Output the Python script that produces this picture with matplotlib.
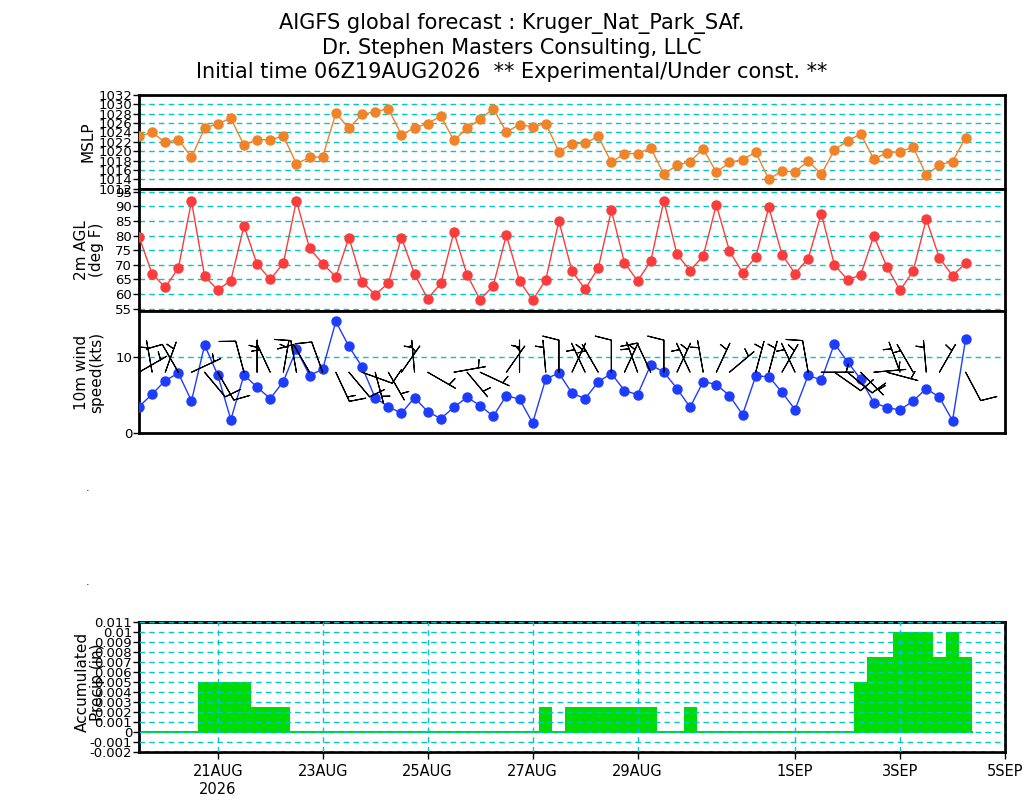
import numpy as np
import pandas as pd
import matplotlib
matplotlib.use('Agg')
import matplotlib.pyplot as plt
import matplotlib.dates as mdates

# 6-hourly forecast, first value 12Z19AUG2026
times = pd.date_range('2026-08-19 12:00', periods=64, freq='6h')

mslp = [1023.2, 1024.0, 1021.9, 1022.5, 1018.7, 1024.9, 1025.9, 1027.0,
        1021.3, 1022.5, 1022.4, 1023.3, 1017.3, 1018.7, 1018.8, 1028.1,
        1024.9, 1027.9, 1028.4, 1029.1, 1023.5, 1025.0, 1025.9, 1027.5,
        1022.3, 1024.9, 1026.8, 1029.1, 1024.1, 1025.7, 1025.2, 1025.9,
        1019.9, 1021.6, 1021.7, 1023.2, 1017.6, 1019.5, 1019.5, 1020.7,
        1015.1, 1017.0, 1017.8, 1020.5, 1015.5, 1017.6, 1018.2, 1019.8,
        1014.0, 1015.8, 1015.6, 1017.9, 1015.1, 1020.3, 1022.2, 1023.7,
        1018.3, 1019.7, 1019.9, 1020.9, 1014.9, 1017.1, 1017.8, 1022.9]

temp = [79.6, 66.9, 62.3, 68.9, 91.7, 66.1, 61.4, 64.6,
        83.3, 70.2, 65.0, 70.5, 91.9, 75.6, 70.4, 65.9,
        79.3, 64.2, 59.8, 63.7, 79.3, 66.8, 58.4, 63.6,
        81.2, 66.6, 58.0, 62.9, 80.2, 64.5, 57.9, 64.8,
        85.0, 67.8, 61.7, 68.9, 88.6, 70.7, 64.5, 71.2,
        91.9, 73.6, 68.0, 73.0, 90.5, 74.7, 67.3, 72.6,
        89.7, 73.5, 67.0, 72.1, 87.5, 70.0, 64.9, 66.5,
        79.9, 69.3, 61.3, 67.8, 85.6, 72.3, 66.3, 70.5]

wspd = [3.45, 5.09, 6.90, 7.88, 4.20, 11.59, 7.65, 1.73,
        7.65, 6.02, 4.51, 6.77, 11.06, 7.56, 8.41, 14.72,
        11.41, 8.71, 4.60, 3.45, 2.57, 4.64, 2.79, 1.86,
        3.37, 4.69, 3.58, 2.17, 4.91, 4.43, 1.29, 7.12,
        7.88, 5.22, 4.51, 6.72, 7.83, 5.57, 5.04, 8.98,
        8.01, 5.84, 3.37, 6.77, 6.37, 4.91, 2.39, 7.48,
        7.43, 5.36, 3.05, 7.61, 6.95, 11.80, 9.38, 7.08,
        3.98, 3.32, 3.01, 4.20, 5.84, 4.69, 1.59, 12.39]

# direction the wind blows from, degrees
wdir = [60, 350, 20, 330, 65, 140, 150, 170,
        345, 0, 335, 10, 350, 330, 340, 155,
        140, 110, 165, 150, 35, 355, 120, 55,
        80, 140, 115, 75, 35, 0, 345, 355,
        0, 25, 335, 330, 0, 25, 340, 335,
        0, 25, 335, 350, 25, 50, 20, 15,
        15, 30, 335, 350, 90, 125, 130, 135,
        85, 105, 340, 330, 355, 30, 270, 152]

precip = [0, 0, 0, 0, 0, 0.005, 0.005, 0.005,
          0.005, 0.0025, 0.0025, 0.0025, 0, 0, 0, 0,
          0, 0, 0, 0, 0, 0, 0, 0,
          0, 0, 0, 0, 0, 0, 0, 0.0025,
          0, 0.0025, 0.0025, 0.0025, 0.0025, 0.0025, 0.0025, 0.0025,
          0, 0, 0.0025, 0, 0, 0, 0, 0,
          0, 0, 0, 0, 0, 0, 0, 0.005,
          0.0075, 0.0075, 0.01, 0.01, 0.01, 0.0075, 0.01, 0.0075]

xtick_dates = ['2026-08-21', '2026-08-23', '2026-08-25', '2026-08-27',
               '2026-08-29', '2026-09-01', '2026-09-03', '2026-09-05']
xtick_labels = ['21AUG\n2026', '23AUG', '25AUG', '27AUG', '29AUG',
                '1SEP', '3SEP', '5SEP']

orange = '#f08228'
red = '#fa3c3c'
blue = '#1e3cff'
green = '#00dc00'
cyan = '#00c8c8'

t = mdates.date2num(times.to_pydatetime())
xt = mdates.date2num(pd.to_datetime(xtick_dates).to_pydatetime())
x0 = mdates.date2num(pd.Timestamp('2026-08-19 12:00').to_pydatetime())
x1 = mdates.date2num(pd.Timestamp('2026-09-05 00:00').to_pydatetime())

fig = plt.figure(figsize=(10.24, 8.0), dpi=100)

W, H = 1024.0, 800.0
def panel(top, bottom):
    return fig.add_axes([139 / W, 1 - bottom / H, 866 / W, (bottom - top) / H])

def style(ax):
    ax.set_xlim(x0, x1)
    for s in ax.spines.values():
        s.set_linewidth(2)
    ax.tick_params(axis='y', direction='out', length=4, width=1, labelsize=9.5, pad=1)
    ax.set_xticks([])
    ax.yaxis.grid(True, color=cyan, linestyle=(0, (4, 3)), linewidth=1)

# MSLP
ax1 = panel(95, 188.7)
style(ax1)
ax1.plot(t, mslp, color=orange, lw=1, marker='o', ms=6.5, zorder=3)
ax1.set_ylim(1012, 1032)
ax1.set_yticks(np.arange(1012, 1033, 2))

# 2m temperature
ax2 = panel(188.7, 311)
style(ax2)
ax2.plot(t, temp, color=red, lw=1, marker='o', ms=6.5, zorder=3)
ax2.set_ylim(54.2, 96)
ax2.set_yticks(np.arange(55, 96, 5))

# 10m wind
ax3 = panel(311, 432.7)
style(ax3)
ax3.plot(t, wspd, color=blue, lw=1, marker='o', ms=6.5, zorder=3)
rad = np.deg2rad(np.array(wdir))
spd = np.array(wspd)
u = -spd * np.sin(rad)
v = -spd * np.cos(rad)
ax3.barbs(t, np.full(len(t), 8.0), u, v, length=6.8, color='black',
          linewidth=0.8, flip_barb=True, zorder=4,
          sizes=dict(emptybarb=0.0, height=0.5, spacing=0.15))
ax3.set_ylim(0, 16.1)
ax3.set_yticks([0, 10])

# precipitation
ax4 = panel(621.7, 752.3)
for s in ax4.spines.values():
    s.set_linewidth(2)
edges = np.concatenate([t - 0.125, [t[-1] + 0.125]])
ax4.stairs(precip, edges, fill=True, color=green, baseline=0, zorder=2)
ax4.plot([edges[0], edges[-1]], [0, 0], color=green, lw=1.5, zorder=2)
ax4.set_xlim(x0, x1)
ax4.set_ylim(-0.002, 0.011)
pt = np.arange(-2, 12) / 1000.0
ax4.set_yticks(pt)
ax4.set_yticklabels(['-0.002', '-0.001', '0', '0.001', '0.002', '0.003', '0.004',
                     '0.005', '0.006', '0.007', '0.008', '0.009', '0.01', '0.011'])
ax4.set_xticks(xt)
ax4.set_xticklabels(xtick_labels)
ax4.tick_params(axis='y', direction='out', length=4, width=1, labelsize=9.5, pad=1)
ax4.tick_params(axis='x', direction='out', length=5, width=1, labelsize=10.5)
ax4.set_axisbelow(False)
ax4.grid(True, color=cyan, linestyle=(0, (4, 3)), linewidth=1, zorder=5)

# titles
fig.text(0.5, 1 - 24 / H, 'AIGFS global forecast : Kruger_Nat_Park_SAf.',
         ha='center', va='center', fontsize=15)
fig.text(0.5, 1 - 48 / H, 'Dr. Stephen Masters Consulting, LLC',
         ha='center', va='center', fontsize=15)
fig.text(0.5, 1 - 72 / H, 'Initial time 06Z19AUG2026  ** Experimental/Under const. **',
         ha='center', va='center', fontsize=15)

# y labels
fig.text(88 / W, 1 - 142 / H, 'MSLP', rotation=90, ha='center', va='center', fontsize=11)
fig.text(89 / W, 1 - 250 / H, '2m AGL\n(deg F)', rotation=90, ha='center', va='center',
         fontsize=11, linespacing=1.0)
fig.text(89 / W, 1 - 372 / H, '10m wind\nspeed(kts)', rotation=90, ha='center', va='center',
         fontsize=11, linespacing=1.0)
fig.text(90 / W, 1 - 682 / H, 'Accumulated\nPrecip (in)', rotation=90, ha='center', va='center',
         fontsize=11, linespacing=1.0)

fig.text(88 / W, 1 - 488 / H, '.', ha='center', va='center', fontsize=8)
fig.text(88 / W, 1 - 582 / H, '.', ha='center', va='center', fontsize=8)

fig.savefig('out.png', dpi=100)
